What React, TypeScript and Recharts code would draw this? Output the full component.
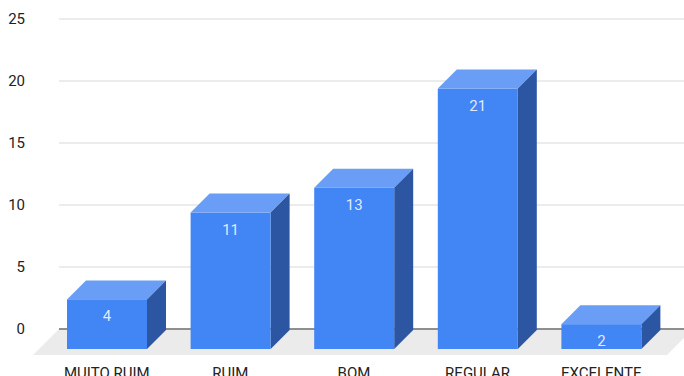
import { BarChart, Bar, XAxis, YAxis, CartesianGrid, ReferenceLine } from 'recharts';

const categories = ['MUITO RUIM', 'RUIM', 'BOM', 'REGULAR', 'EXCELENTE'];
const counts = [4, 11, 13, 21, 2];
const yTicks = [0, 5, 10, 15, 20, 25];

const data = categories.map((name, i) => ({ name, value: counts[i] }));

// deslocamento da "profundidade" 3D
const DEPTH = 19;
const DROP = 20;
const FONT = 'Roboto, Arial, sans-serif';

function Bar3D(props: any) {
  const { x, y, width, height, value } = props;
  const fx = x;
  const fy = y + DROP;
  const fb = fy + height;
  return (
    <g>
      <polygon
        points={`${fx},${fy} ${fx + DEPTH},${fy - DEPTH} ${fx + width + DEPTH},${fy - DEPTH} ${fx + width},${fy}`}
        fill="#6a9ef6"
      />
      <polygon
        points={`${fx + width},${fy} ${fx + width + DEPTH},${fy - DEPTH} ${fx + width + DEPTH},${fb - DEPTH} ${fx + width},${fb}`}
        fill="#2c55a2"
      />
      <rect x={fx} y={fy} width={width} height={height} fill="#4285f4" />
      <text
        x={fx + width / 2}
        y={fy + 22}
        textAnchor="middle"
        fill="#ffffff"
        fillOpacity={0.85}
        fontSize={15}
        fontFamily={FONT}
      >
        {value}
      </text>
    </g>
  );
}

function Floor(props: any) {
  const { x1, y1, x2 } = props;
  return (
    <g>
      <polygon
        points={`${x1 + 14},${y1} ${x2 + 30},${y1} ${x2 + 4},${y1 + 26} ${x1 - 12},${y1 + 26}`}
        fill="#ebebeb"
      />
      <line x1={x1 + 14} y1={y1} x2={x2 + 21} y2={y1} stroke="#333333" strokeWidth={1} />
    </g>
  );
}

function GridLine(props: any) {
  const { x1, y1, x2 } = props;
  return <line x1={x1 + 14} y1={y1} x2={x2 + 21} y2={y1} stroke="#d9d9d9" strokeWidth={1} />;
}

function CategoryTick(props: any) {
  const { x, y, payload } = props;
  return (
    <text x={x} y={y + 41} textAnchor="middle" fill="#222222" fontSize={15} fontFamily={FONT}>
      {payload.value}
    </text>
  );
}

export default function App() {
  return (
    <div style={{ position: 'absolute', left: 0, top: 0, background: '#ffffff' }}>
      <BarChart
        width={684}
        height={376}
        data={data}
        margin={{ top: 19, right: 21, bottom: 0, left: 0 }}
        barSize={80}
      >
        <CartesianGrid vertical={false} horizontal={GridLine} />
        <ReferenceLine y={0} shape={Floor} zIndex={-10} />
        <XAxis
          dataKey="name"
          axisLine={false}
          tickLine={false}
          height={47}
          interval={0}
          tick={<CategoryTick />}
        />
        <YAxis
          domain={[0, 25]}
          ticks={yTicks}
          axisLine={false}
          tickLine={false}
          tickSize={0}
          tickMargin={20}
          width={45}
          tick={{ fill: '#222222', fontSize: 15, fontFamily: FONT }}
        />
        <Bar dataKey="value" shape={<Bar3D />} isAnimationActive={false} />
      </BarChart>
    </div>
  );
}
